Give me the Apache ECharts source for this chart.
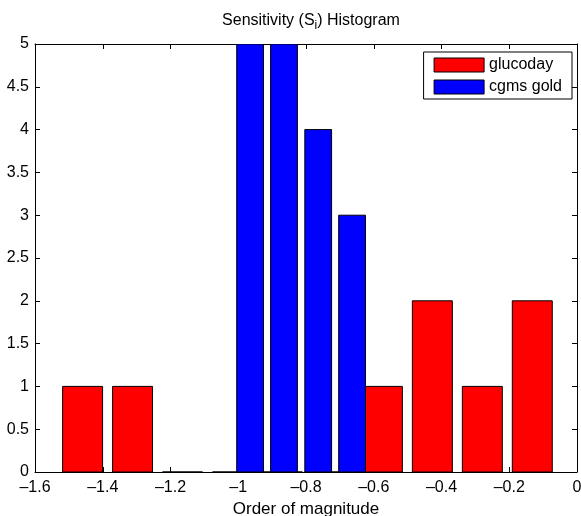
<!DOCTYPE html>
<html>
<head>
<meta charset="utf-8">
<script src="https://cdn.jsdelivr.net/npm/echarts@6/dist/echarts.min.js"></script>
<style>
  html, body { margin: 0; padding: 0; background: #fff; }
  #chart { width: 581px; height: 516px; }
</style>
</head>
<body>
<div id="chart"></div>
<script>
// histogram bin centres and counts
const glucodayCenters = [-1.4595, -1.312, -1.1645, -1.017, -0.8695, -0.722, -0.5745, -0.427, -0.2795, -0.132];
const glucodayCounts = [1, 1, 0, 0, 0, 0, 1, 2, 1, 2];
const cgmsCenters = [-0.965, -0.865, -0.764, -0.664];
const cgmsCounts = [5, 5, 4, 3];
const seriesNames = ['glucoday', 'cgms gold'];

const chart = echarts.init(document.getElementById('chart'));
const font = 'Liberation Sans, Arial, sans-serif';

const fmtMinus = v => String(v).replace('-', '\u2013');

// draws rect bars of given width (in x units) from value to 0
function barRenderer(width, fill) {
  return function (params, api) {
    const x = api.value(0), y = api.value(1);
    const p0 = api.coord([x - width / 2, y]);
    const p1 = api.coord([x + width / 2, 0]);
    return {
      type: 'rect',
      shape: { x: p0[0], y: p0[1], width: p1[0] - p0[0], height: p1[1] - p0[1] },
      style: { fill: fill, stroke: '#000', lineWidth: 1 }
    };
  };
}

const tickStyle = { show: true, inside: true, length: 5, lineStyle: { color: '#000', width: 1 } };

const option = {
  backgroundColor: '#fff',
  animation: false,
  title: {
    text: 'Sensitivity (S{sub|i}) Histogram',
    left: 306,
    textAlign: 'center',
    top: 4,
    textStyle: {
      fontFamily: font, fontSize: 16, fontWeight: 'normal', color: '#000',
      rich: { sub: { fontFamily: font, fontSize: 12, padding: [11, 0, 0, 0], color: '#000' } }
    }
  },
  legend: {
    orient: 'vertical',
    right: 9,
    top: 52,
    itemWidth: 50,
    itemHeight: 14,
    itemGap: 6,
    padding: [5, 10, 4, 10],
    borderColor: '#000',
    borderWidth: 1,
    backgroundColor: '#fff',
    textStyle: { fontFamily: font, fontSize: 16, lineHeight: 14, color: '#000' },
    data: seriesNames.map((n, i) => ({
      name: n, icon: 'rect',
      itemStyle: { color: i === 0 ? '#ff0000' : '#0000ff', borderColor: '#000', borderWidth: 1 }
    }))
  },
  grid: { left: 35, right: 4, top: 44, bottom: 44, show: false, outerBoundsMode: 'none', containLabel: false },
  xAxis: [{
    type: 'value', min: -1.6, max: 0, interval: 0.2,
    name: 'Order of magnitude', nameLocation: 'middle', nameGap: 27,
    nameTextStyle: { fontFamily: font, fontSize: 17, color: '#000' },
    axisLine: { show: true, onZero: false, lineStyle: { color: '#000', width: 1 } },
    axisTick: tickStyle,
    axisLabel: { fontFamily: font, fontSize: 16, color: '#000', margin: 8, formatter: fmtMinus },
    splitLine: { show: false }
  }, {
    type: 'value', min: -1.6, max: 0, interval: 0.2, position: 'top',
    axisLine: { show: true, onZero: false, lineStyle: { color: '#000', width: 1 } },
    axisTick: tickStyle, axisLabel: { show: false }, splitLine: { show: false }
  }],
  yAxis: [{
    type: 'value', min: 0, max: 5, interval: 0.5,
    axisLine: { show: true, onZero: false, lineStyle: { color: '#000', width: 1 } },
    axisTick: tickStyle,
    axisLabel: { fontFamily: font, fontSize: 16, color: '#000', margin: 6 },
    splitLine: { show: false }
  }, {
    type: 'value', min: 0, max: 5, interval: 0.5, position: 'right',
    axisLine: { show: true, onZero: false, lineStyle: { color: '#000', width: 1 } },
    axisTick: tickStyle, axisLabel: { show: false }, splitLine: { show: false }
  }],
  series: [{
    name: seriesNames[0],
    type: 'custom',
    clip: true,
    itemStyle: { color: '#ff0000', borderColor: '#000', borderWidth: 1 },
    renderItem: barRenderer(0.118, '#ff0000'),
    data: glucodayCenters.map((c, i) => [c, glucodayCounts[i]])
  }, {
    name: seriesNames[1],
    type: 'custom',
    clip: true,
    itemStyle: { color: '#0000ff', borderColor: '#000', borderWidth: 1 },
    renderItem: barRenderer(0.079, '#0000ff'),
    data: cgmsCenters.map((c, i) => [c, cgmsCounts[i]])
  }]
};

chart.setOption(option);
</script>
</body>
</html>
